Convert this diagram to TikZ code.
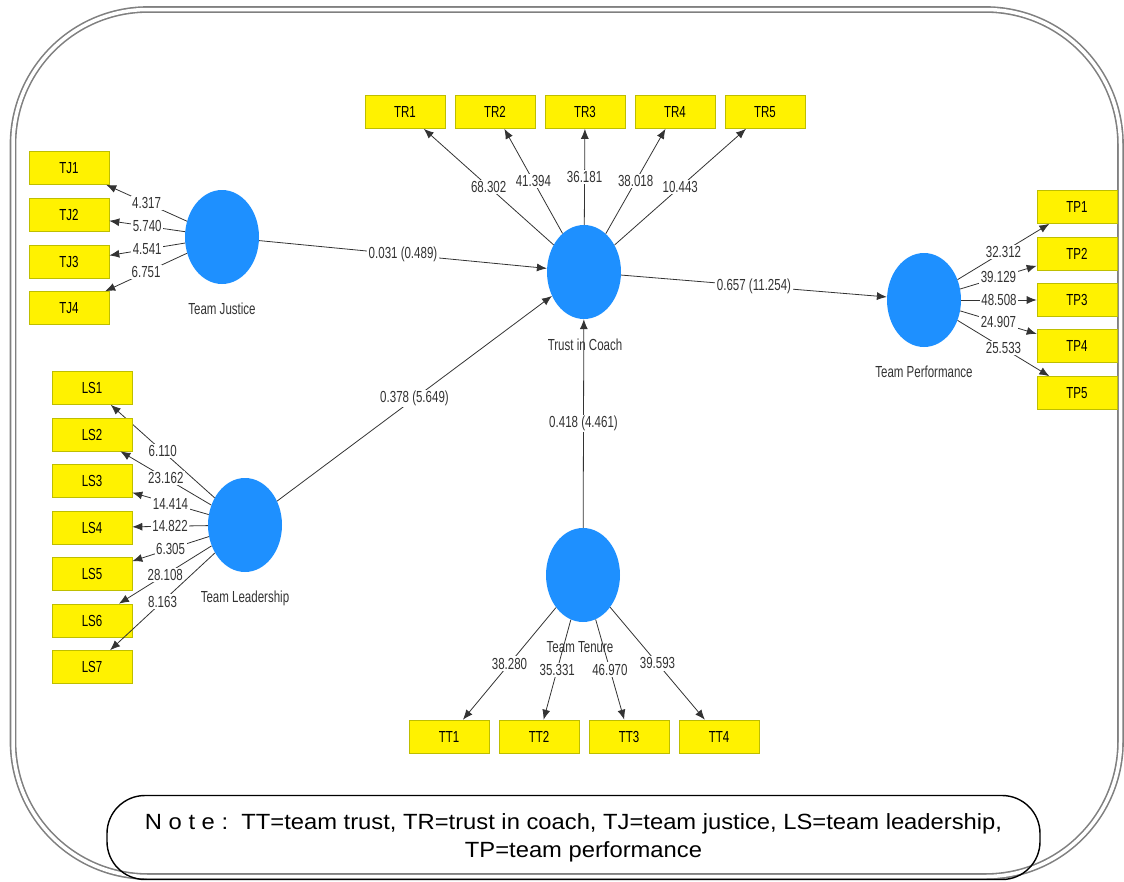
\documentclass[tikz,border=0pt]{standalone}
\usepackage{fontspec}
\setmainfont{Liberation Sans}
\newfontfamily\plsfont[FakeStretch=0.72]{Liberation Sans}
\newfontfamily\notefont[FakeStretch=1.08]{Liberation Sans}
\usetikzlibrary{arrows.meta,shapes.geometric}
\definecolor{latentblue}{RGB}{30,144,255}
\definecolor{itemedge}{RGB}{190,190,0}

\begin{document}
\begin{tikzpicture}[x=1pt, y=-1pt,
  latent/.style={ellipse, fill=latentblue, minimum width=74pt, minimum height=94pt, inner sep=0pt},
  indicator/.style={rectangle, fill=yellow, draw=itemedge, line width=0.6pt, minimum width=80pt, minimum height=33pt, inner sep=0pt, font=\plsfont\fontsize{16}{16}\selectfont},
  loading/.style={-{Latex[length=10pt,width=8pt]}, line width=0.8pt, black!80},
  coef/.style={fill=white, inner sep=1.5pt, font=\plsfont\fontsize{16}{16}\selectfont},
  caption/.style={font=\plsfont\fontsize{16}{16}\selectfont, text=black!80},
  notebox/.style={draw, line width=1.4pt, rounded corners=38pt, minimum width=933pt, minimum height=84pt, align=center, font=\notefont\fontsize{22}{28}\selectfont}]

  \useasboundingbox (0,0) rectangle (1124,881);
  \draw[gray, line width=1.6pt, double=white, double distance=3.5pt, rounded corners=135pt]
        (13,9.5) rectangle (1120.5,876.5);

  \node[latent] (TJ) at (222,237) {};
  \node[latent] (TC) at (584,272) {};
  \node[latent] (TP) at (924,300) {};
  \node[latent] (TL) at (245,525) {};
  \node[latent] (TT) at (583,575) {};

  \node[caption] (TJname) at (222,309) {Team Justice};
  \node[caption] (TCname) at (585,345) {Trust in Coach};
  \node[caption] (TPname) at (924,372) {Team Performance};
  \node[caption] (TLname) at (245,598) {Team Leadership};
  \node[caption] (TTname) at (580,647) {Team Tenure};

  \foreach \i/\y/\v in {1/168/4.317, 2/215/5.740, 3/262/4.541, 4/308/6.751}{
    \node[indicator] (TJ\i) at (69,\y) {TJ\i};
    \draw[loading] (TJ) -- node[coef] {\v} (TJ\i);
  }
  \foreach \i/\x/\v in {1/405/68.302, 2/495/41.394, 3/585/36.181, 4/675/38.018, 5/765/10.443}{
    \node[indicator] (TR\i) at (\x,112) {TR\i};
    \draw[loading] (TC) -- node[coef] {\v} (TR\i);
  }
  \foreach \i/\y/\v in {1/207/32.312, 2/253.5/39.129, 3/300/48.508, 4/346/24.907, 5/393/25.533}{
    \node[indicator] (TP\i) at (1077,\y) {TP\i};
    \draw[loading] (TP) -- node[coef] {\v} (TP\i);
  }
  \foreach \i/\y/\v in {1/388/6.110, 2/434.5/23.162, 3/481/14.414, 4/527.5/14.822, 5/574/6.305, 6/620.5/28.108, 7/667/8.163}{
    \node[indicator] (LS\i) at (92,\y) {LS\i};
    \draw[loading] (TL) -- node[coef] {\v} (LS\i);
  }
  \foreach \i/\x/\v in {1/449/38.280, 2/539/35.331, 3/629/46.970, 4/719/39.593}{
    \node[indicator] (TT\i) at (\x,736.5) {TT\i};
    \draw[loading] (TT) -- node[coef] {\v} (TT\i);
  }

  \draw[loading] (TJ) -- node[coef] {0.031 (0.489)} (TC);
  \draw[loading] (TL) -- node[coef] {0.378 (5.649)} (TC);
  \draw[loading] (TT) -- node[coef] {0.418 (4.461)} (TC);
  \draw[loading] (TC) -- node[coef] {0.657 (11.254)} (TP);

  \node[notebox] (note) at (573.5,837.5) {N o t e :\ \ TT=team trust, TR=trust in coach, TJ=team justice, LS=team leadership,\\\hspace*{20pt}TP=team performance};
\end{tikzpicture}
\end{document}
